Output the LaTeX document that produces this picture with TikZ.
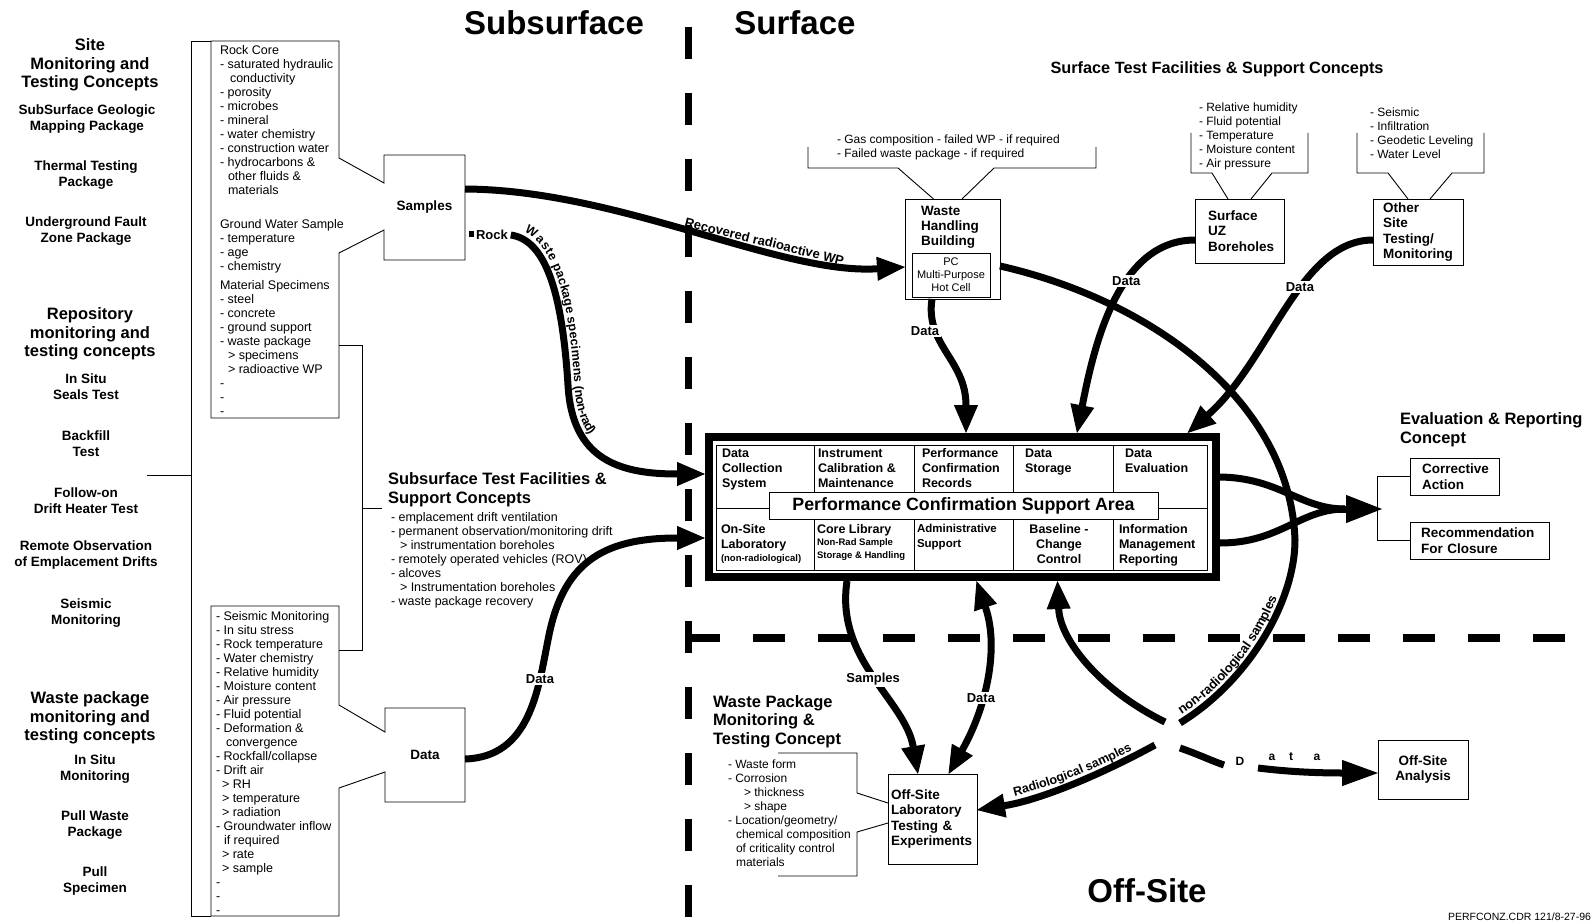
\documentclass[tikz,border=0pt]{standalone}
\usepackage{fontspec}
\setmainfont{Liberation Sans}
\usetikzlibrary{arrows.meta,decorations.text}
\newcommand{\fsz}[2]{\fontsize{#1}{#2}\selectfont}
\begin{document}
\begin{tikzpicture}[x=1pt,y=-1pt,
  every node/.style={inner sep=0pt,outer sep=0pt},
  lhead/.style={font=\fsz{16.5}{18.5}\bfseries,align=center},
  litem/.style={font=\fsz{13.5}{16}\bfseries,align=center},
  lst/.style={font=\fsz{12.5}{14},align=left,anchor=north west},
  slst/.style={font=\fsz{12}{14},align=left,anchor=north west},
  hdr/.style={font=\fsz{16.5}{18.5}\bfseries,align=left,anchor=north west},
  bxt/.style={font=\fsz{13.5}{15}\bfseries},
  cell/.style={font=\fsz{12.5}{15}\bfseries,align=left,anchor=north west},
  thinl/.style={line width=0.9pt},
  flow/.style={line width=7pt},
  tip/.style={-{Triangle[length=28pt,width=24pt,line width=1pt]}},
  alabel/.style={font=\fsz{13}{15}\bfseries,fill=white,inner sep=1.5pt},
  slab/.style={font=\fsz{13}{15}\bfseries,sloped},
  ttl/.style={font=\fsz{33}{36}\bfseries},
  tbox/.style={draw,line width=0.9pt,anchor=north west,align=left,font=\fsz{13.5}{15.5}\bfseries},
]
\fill[white] (0,0) rectangle (1591,923);
\useasboundingbox (0,0) rectangle (1591,923);

% dividers
\draw[line width=7pt,dash pattern=on 32pt off 34pt] (688,27) -- (688,923);
\draw[line width=8pt,dash pattern=on 32pt off 33pt] (688,638) -- (1573,638);

% titles
\node[ttl] (tsub) at (554,23) {Subsurface};
\node[ttl] (tsurf) at (795,23) {Surface};
\node[ttl] (toff) at (1147,891) {Off-Site};

% left column
\node[lhead] (site) at (90,65) {Site\\Monitoring and\\Testing Concepts};
\node[litem] (sgm) at (87,119) {SubSurface Geologic\\Mapping Package};
\node[litem] (ttp) at (86,175) {Thermal Testing\\Package};
\node[litem] (ufz) at (86,231) {Underground Fault\\Zone Package};
\node[lhead] (repo) at (90,334) {Repository\\monitoring and\\testing concepts};
\node[litem] (ist) at (86,387) {In Situ\\Seals Test};
\node[litem] (bft) at (86,444) {Backfill\\Test};
\node[litem] (fodh) at (86,501) {Follow-on\\Drift Heater Test};
\node[litem] (roed) at (86,555) {Remote Observation\\of Emplacement Drifts};
\node[litem] (smon) at (86,613) {Seismic\\Monitoring};
\node[lhead] (wpm) at (90,718) {Waste package\\monitoring and\\testing concepts};
\node[litem] (ism) at (95,769) {In Situ\\Monitoring};
\node[litem] (pwp) at (95,825) {Pull Waste\\Package};
\node[litem] (psp) at (95,881) {Pull\\Specimen};

% big bracket
\draw[thinl] (211,41) -- (191,41) -- (191,916) -- (211,916);
\draw[thinl] (147,475) -- (191,475);

% rock core list + samples callout
\draw[thinl] (339,158) -- (339,41) -- (211,41) -- (211,418) -- (339,418) -- (339,253) -- (384,230) -- (384,260) -- (465,260) -- (465,155) -- (384,155) -- (384,183) -- cycle;
\node[lst] (rockcore) at (220,45) {Rock Core\\- saturated hydraulic\\\hspace*{10pt}conductivity\\- porosity\\- microbes\\- mineral\\- water chemistry\\- construction water\\- hydrocarbons \&\\\hspace*{8pt}other fluids \&\\\hspace*{8pt}materials\\[20pt]Ground Water Sample\\- temperature\\- age\\- chemistry\\[5pt]Material Specimens\\- steel\\- concrete\\- ground support\\- waste package\\\hspace*{8pt}> specimens\\\hspace*{8pt}> radioactive WP\\-\\-\\-};
\node[bxt,minimum width=81pt,minimum height=105pt] (samples) at (424.5,207.5) {Samples};
\fill (469,231) rectangle (474,237);
\node[font=\fsz{13}{15}\bfseries,anchor=west] (rock) at (476,235) {Rock};

% subsurface bracket
\draw[thinl] (339,345) -- (362,345) -- (362,650) -- (339,650);
\draw[thinl] (362,508) -- (382,508);
\node[hdr] (sstf) at (388,473) {Subsurface Test Facilities \&\\Support Concepts};
\node[lst] (sslist) at (391,512) {- emplacement drift ventilation\\- permanent observation/monitoring drift\\\hspace*{9pt}> instrumentation boreholes\\- remotely operated vehicles (ROV)\\- alcoves\\\hspace*{9pt}> Instrumentation boreholes\\- waste package recovery};

% lower list + data callout
\draw[thinl] (339,705) -- (339,606) -- (211,606) -- (211,916) -- (339,916) -- (339,788) -- (385,772) -- (385,802) -- (465,802) -- (465,708) -- (385,708) -- (385,732) -- cycle;
\node[lst] (datalist) at (216,611) {- Seismic Monitoring\\- In situ stress\\- Rock temperature\\- Water chemistry\\- Relative humidity\\- Moisture content\\- Air pressure\\- Fluid potential\\- Deformation \&\\\hspace*{10pt}convergence\\- Rockfall/collapse\\- Drift air\\\hspace*{6pt}> RH\\\hspace*{6pt}> temperature\\\hspace*{6pt}> radiation\\- Groundwater inflow\\\hspace*{8pt}if required\\\hspace*{6pt}> rate\\\hspace*{6pt}> sample\\-\\-\\-};
\node[bxt,minimum width=80pt,minimum height=94pt] (data) at (425,755) {Data};

% surface facilities
\node[font=\fsz{16.3}{18}\bfseries] (stfh) at (1217,69) {Surface Test Facilities \& Support Concepts};

\node[draw,thinl,anchor=north west,minimum width=95pt,minimum height=100pt] (whb) at (905,199) {};
\node[bxt,align=left,anchor=north west] (whbt) at (921,206) {Waste\\Handling\\Building};
\node[draw,thinl,anchor=north west,minimum width=78pt,minimum height=44pt,align=center,font=\fsz{11}{13}] (pc) at (912,253) {PC\\Multi-Purpose\\Hot Cell};
\node[slst] (gaslist) at (837,134.5) {- Gas composition - failed WP - if required\\- Failed waste package - if required};
\draw[thinl] (808,147) -- (808,168) -- (898,168) -- ([xshift=-19pt]whb.north);
\draw[thinl] ([xshift=9.5pt]whb.north) -- (994,168) -- (1096,168) -- (1096,147);

\node[tbox,minimum width=89pt,minimum height=64pt,inner xsep=13pt,text width=63pt] (uz) at (1195,199) {Surface\\UZ\\Boreholes};
\node[slst] (uzlist) at (1199,102.5) {- Relative humidity\\- Fluid potential\\- Temperature\\- Moisture content\\- Air pressure};
\draw[thinl] (1191,133) -- (1191,173) -- (1212,173) -- ([xshift=-11.5pt]uz.north);
\draw[thinl] ([xshift=11.5pt]uz.north) -- (1272,173) -- (1308,173) -- (1308,133);

\node[tbox,minimum width=90pt,minimum height=66pt,inner xsep=10pt,text width=70pt] (oth) at (1373,199) {Other\\Site\\Testing/\\Monitoring};
\node[slst] (othlist) at (1370,107.5) {- Seismic\\- Infiltration\\- Geodetic Leveling\\- Water Level};
\draw[thinl] (1357,133) -- (1357,173) -- (1388,173) -- ([xshift=-10pt]oth.north);
\draw[thinl] ([xshift=12pt]oth.north) -- (1452,173) -- (1484,173) -- (1484,133);

% PCSA
\node[draw,line width=8pt,outer sep=4pt,minimum width=507pt,minimum height=140pt,anchor=north west] (pcsa) at (705,433) {};
\node[draw,thinl,minimum width=491pt,minimum height=125pt,anchor=north west] (pcsain) at (716,445) {};
\draw[thinl] (716,508) -- (769,508);
\draw[thinl] (1158,508) -- (1207,508);
\foreach \cx in {814,914,1013,1113} {
  \draw[thinl] (\cx,445) -- (\cx,492);
  \draw[thinl] (\cx,519) -- (\cx,570);
}
\node[draw,thinl,fill=white,minimum width=389pt,minimum height=27pt,font=\fsz{17.8}{20}\bfseries] (band) at (963.5,505.5) {Performance Confirmation Support Area};
\node[cell] (c1) at (722,448.5) {Data\\Collection\\System};
\node[cell] (c2) at (818,448.5) {Instrument\\Calibration \&\\Maintenance};
\node[cell] (c3) at (922,448.5) {Performance\\Confirmation\\Records};
\node[cell] (c4) at (1025,448.5) {Data\\Storage};
\node[cell] (c5) at (1125,448.5) {Data\\Evaluation};
\node[cell] (c6) at (721,524.5) {On-Site\\Laboratory\\[-2pt]{\fsz{9.5}{11}(non-radiological)}};
\node[cell] (c7) at (817,524.5) {Core Library\\[-3pt]{\fsz{9.5}{11}Non-Rad Sample}\\[-2pt]{\fsz{9.5}{11}Storage \& Handling}};
\node[cell,font=\fsz{11.5}{15}\bfseries] (c8) at (917,524.5) {Administrative\\Support};
\node[cell,align=center,anchor=north] (c9) at (1059,524.5) {Baseline -\\Change\\Control};
\node[cell] (c10) at (1119,524.5) {Information\\Management\\Reporting};

% evaluation
\node[hdr] (evh) at (1400,413) {Evaluation \& Reporting\\Concept};
\node[tbox,minimum width=89pt,minimum height=37pt,inner xsep=12pt,text width=65pt] (cor) at (1410,458) {Corrective\\Action};
\node[tbox,minimum width=139pt,minimum height=37pt,inner xsep=11pt,text width=117pt] (rec) at (1410,522) {Recommendation\\For Closure};
\draw[thinl] (cor.west) -- (1377,476.5) -- (1377,540.5) -- (rec.west);
\coordinate (evb) at (1382,509);

% off-site boxes
\node[tbox,align=center,minimum width=90pt,minimum height=59pt] (osa) at (1378,740) {Off-Site\\Analysis};
\node[tbox,minimum width=89pt,minimum height=90pt,inner xsep=3pt,text width=83pt] (osl) at (888,774) {Off-Site\\Laboratory\\Testing \&\\Experiments};
\node[hdr] (wpmt) at (713,695.5) {Waste Package\\Monitoring \&\\Testing Concept};
\node[slst] (wplist) at (728,759.5) {- Waste form\\- Corrosion\\\hspace*{16pt}> thickness\\\hspace*{16pt}> shape\\- Location/geometry/\\\hspace*{8pt}chemical composition\\\hspace*{8pt}of criticality control\\\hspace*{8pt}materials};
\draw[thinl] (778,753) -- (857,753) -- (857,793) -- ([yshift=16pt]osl.west);
\draw[thinl] ([yshift=-4pt]osl.west) -- (857,832) -- (857,876) -- (778,876);

% ---------- connectors ----------
\draw[flow,tip] ([yshift=18.5pt]samples.east) .. controls (620,190) and (780,275) .. ([yshift=-18pt]whb.west) node[slab,above=3pt,pos=.65] (lrec) {Recovered radioactive WP};

\draw[flow,tip] ([xshift=3pt]rock.east) .. controls (545,240) and (562,290) .. (568,385) .. controls (572,460) and (620,474) .. ([yshift=33pt]pcsa.west);
\path[decorate,decoration={text along path,text={|\fsz{12.5}{15}\bfseries|Waste package specimens (non-rad)},text align={left indent=10pt},raise=6.5pt}] (511,235) .. controls (545,240) and (562,290) .. (568,385) .. controls (572,460) and (620,474) .. (705,474);

\draw[flow,tip] ([yshift=-4pt]data.east) .. controls (530,757) and (538,690) .. (548,640) node[alabel,pos=.75] (ld1) {Data} .. controls (562,565) and (600,538) .. ([yshift=-31pt]pcsa.west);

\draw[flow,tip] ([xshift=-20.5pt]whb.south) .. controls (925,345) and (966,360) .. ([xshift=3.5pt]pcsa.north) node[alabel,pos=.27,xshift=-10pt] (ld2) {Data};

\draw[flow,tip] ([yshift=-9pt]uz.west) .. controls (1120,240) and (1095,340) .. ([xshift=114.5pt]pcsa.north) node[alabel,pos=.4] (ld3) {Data};

\draw[flow,tip] ([yshift=-8pt]oth.west) .. controls (1300,240) and (1270,360) .. ([xshift=225pt]pcsa.north) node[alabel,pos=.4] (ld4) {Data};

\draw[flow] ([yshift=30pt]pcsa.east) .. controls (1280,478) and (1300,509) .. (1345,509);
\draw[flow] ([yshift=-36pt]pcsa.east) .. controls (1280,543) and (1300,509) .. (1345,509);
\draw[flow,-{Triangle[length=36pt,width=28pt,line width=1pt]}] (1330,509) -- (evb);

\draw[flow,tip] ([xshift=-115.5pt]pcsa.south) .. controls (835,660) and (905,700) .. ([xshift=-14.5pt]osl.north) node[alabel,pos=.5] (lsam) {Samples};

\draw[flow,{Triangle[length=28pt,width=24pt,line width=1pt]}-{Triangle[length=28pt,width=24pt,line width=1pt]}] ([xshift=14pt]pcsa.south) .. controls (1000,650) and (985,710) .. ([xshift=16pt]osl.north) node[alabel,pos=.6] (ld5) {Data};

% hub crossing
\coordinate (jA) at (1180,723);
\coordinate (jB) at (1165,722);
\coordinate (jC) at (1155,745);
\coordinate (jD) at (1180,748);
\coordinate (dS) at (1258,768);
\draw[flow] ([yshift=-17pt]whb.east) .. controls (1150,300) and (1290,400) .. (1295,540) .. controls (1295,600) and (1250,680) .. (jA);
\path[decorate,decoration={text along path,text={|\fsz{13}{15}\bfseries|non-radiological samples},text align={left indent=6pt},raise=6pt}] (jA) .. controls (1250,680) and (1295,600) .. (1295,540);
\draw[flow,tip] (jB) .. controls (1100,690) and (1060,640) .. ([xshift=95pt]pcsa.south);
\draw[flow,tip] (jC) .. controls (1100,775) and (1040,800) .. ([yshift=9pt]osl.east);
\path[decorate,decoration={text along path,text={|\fsz{12.5}{15}\bfseries|Radiological samples},text align={left indent=40pt},raise=6pt}] ([yshift=9pt]osl.east) .. controls (1040,800) and (1100,775) .. (jC);
\draw[flow] (jD) .. controls (1200,755) and (1212,761) .. (1224,765);
\node[font=\fsz{12}{14}\bfseries] (dD) at (1240,761) {D};
\draw[flow,-{Triangle[length=36pt,width=26pt,line width=1pt]}] (dS) .. controls (1290,772) and (1320,773) .. ([yshift=-3.5pt]osa.west);
\node[font=\fsz{12}{14}\bfseries] (dA1) at (1272,757) {a};
\node[font=\fsz{12}{14}\bfseries] (dT) at (1291,757) {t};
\node[font=\fsz{12}{14}\bfseries] (dA2) at (1317,757) {a};

\node[font=\fsz{10.5}{12},anchor=east] (refno) at (1591,917) {PERFCONZ.CDR 121/8-27-96};
\end{tikzpicture}
\end{document}
